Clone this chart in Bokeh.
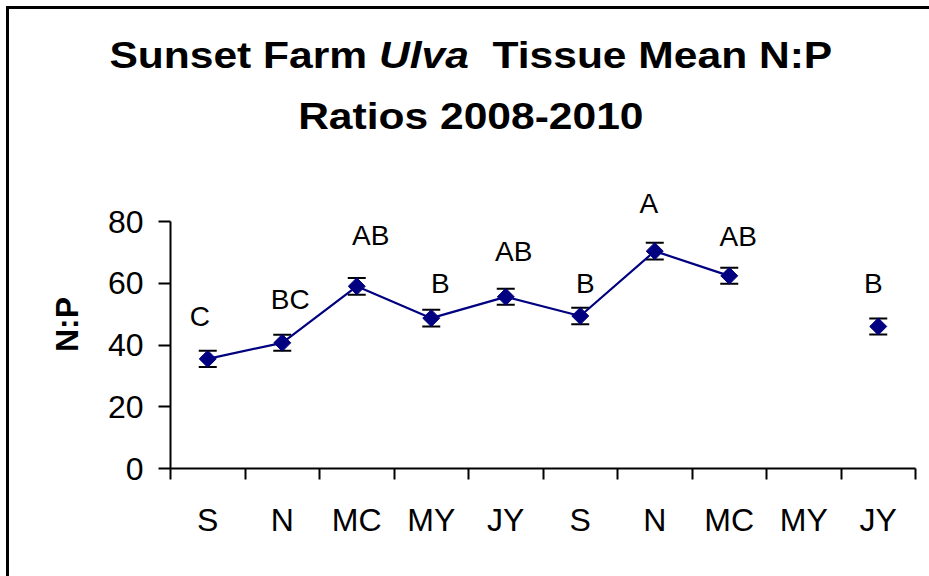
import numpy as np
from bokeh.plotting import figure
from bokeh.layouts import column
from bokeh.models import (ColumnDataSource, Range1d, LinearAxis, FixedTicker,
                          Whisker, TeeHead, LabelSet, Div)
from bokeh.core.properties import value
from bokeh.embed import file_html
from bokeh.resources import INLINE

# ---------------- data ----------------
categories = ["S", "N", "MC", "MY", "JY", "S", "N", "MC", "MY", "JY"]
mean_np = [35.5, 40.7, 59.0, 48.7, 55.6, 49.4, 70.4, 62.4, None, 46.0]
std_err = [2.6, 2.6, 2.7, 2.7, 2.6, 2.7, 2.7, 2.6, None, 2.6]
letters = ["C", "BC", "AB", "B", "AB", "B", "A", "AB", "", "B"]
y_ticks = [0, 20, 40, 60, 80]

# annotation layout for the significance letters (baseline in N:P units, x shift in px)
letter_base = [46.2, 51.5, 72.3, 56.7, 67.1, 56.7, 82.6, 72.1, None, 56.7]
letter_dx = [-8, 8, 14, 9, 8, 5, -6, 9, 0, -5]

# ---------------- layout ----------------
FONT = "Liberation Sans"
NAVY = "#000080"
PAGE_W, PAGE_H = 929, 576
TITLE_H = 150
FIG_H = PAGE_H - TITLE_H
FRAME_L, FRAME_R = 170, 915          # page px
FRAME_T, Y80, FRAME_B = 180, 221, 468  # page px
n = len(categories)
YMAX = 80
YTOP = YMAX * (FRAME_B - FRAME_T) / (FRAME_B - Y80)

title = Div(
    text=('<div style="box-sizing:border-box; width:%dpx; font-family:\'Liberation Sans\'; '
          'font-size:37px; font-weight:bold; color:#000; text-align:center; '
          'line-height:61px; padding-top:25px; padding-left:11px; '
          'transform:scaleX(1.15); transform-origin:50%% 0; white-space:nowrap;">'
          'Sunset Farm <i>Ulva</i>&nbsp; Tissue Mean N:P<br>Ratios 2008-2010</div>') % PAGE_W,
    width=PAGE_W, height=TITLE_H, margin=0)

p = figure(width=PAGE_W, height=FIG_H, output_backend="svg", toolbar_location=None,
           title=None, margin=0,
           x_range=Range1d(0, n), y_range=Range1d(0, YTOP),
           min_border_left=FRAME_L, min_border_right=PAGE_W - FRAME_R,
           min_border_top=FRAME_T - TITLE_H, min_border_bottom=PAGE_H - FRAME_B,
           x_axis_type=None, y_axis_type=None)
p.outline_line_color = None
p.xgrid.visible = False
p.ygrid.visible = False
p.background_fill_color = None
p.border_fill_color = None

centers = [i + 0.5 for i in range(n)]
bounds = [float(i) for i in range(n + 1)]

# x axis: labels at category centres, tick marks at boundaries
xax = LinearAxis(ticker=FixedTicker(ticks=centers, minor_ticks=bounds))
xax.major_label_overrides = {c: lab for c, lab in zip(centers, categories)}
xax.major_tick_out = 0
xax.major_tick_in = 0
xax.minor_tick_out = 11
xax.minor_tick_in = 0
xax.minor_tick_line_width = 2
xax.minor_tick_line_color = "black"
xax.axis_line_width = 2
xax.major_label_standoff = 22
xax.major_label_text_font = FONT
xax.major_label_text_font_size = "32px"
xax.major_label_text_color = "black"
p.add_layout(xax, "below")

yax = LinearAxis(ticker=FixedTicker(ticks=y_ticks, minor_ticks=[]), bounds=(0, YMAX))
yax.major_tick_out = 12
yax.major_tick_in = 0
yax.major_tick_line_width = 2
yax.axis_line_width = 2
yax.major_label_standoff = 15
yax.major_label_text_font = FONT
yax.major_label_text_font_size = "32px"
yax.major_label_text_color = "black"
yax.axis_label = "N:P"
yax.axis_label_text_font = FONT
yax.axis_label_text_font_style = "bold"
yax.axis_label_text_font_size = "32px"
yax.axis_label_text_color = "black"
yax.axis_label_standoff = 20
p.add_layout(yax, "left")

# line (breaks at the missing value)
line_y = [np.nan if v is None else v for v in mean_np]
p.line(centers, line_y, line_color=NAVY, line_width=2.2)

# points & error bars (only where values exist)
idx = [i for i, v in enumerate(mean_np) if v is not None]
pts = ColumnDataSource(dict(
    x=[centers[i] for i in idx],
    y=[mean_np[i] for i in idx],
    lo=[mean_np[i] - std_err[i] for i in idx],
    hi=[mean_np[i] + std_err[i] for i in idx],
))
wh = Whisker(source=pts, base="x", lower="lo", upper="hi", dimension="height",
             line_color="black", line_width=2, level="underlay",
             upper_head=TeeHead(size=18, line_width=2, line_color="black"),
             lower_head=TeeHead(size=18, line_width=2, line_color="black"))
p.add_layout(wh)
p.scatter("x", "y", source=pts, marker="square", angle=np.pi / 4, size=12,
          fill_color=NAVY, line_color=NAVY)

# significance letters
lidx = [i for i, t in enumerate(letters) if t]
lab_src = ColumnDataSource(dict(
    x=[centers[i] for i in lidx],
    y=[letter_base[i] for i in lidx],
    t=[letters[i] for i in lidx],
    dx=[letter_dx[i] for i in lidx],
))
p.add_layout(LabelSet(x="x", y="y", text="t", source=lab_src, x_offset="dx",
                      text_align="center", text_baseline="alphabetic",
                      text_font=value(FONT), text_font_size="28px",
                      text_color="black"))

page = column(title, p, spacing=0, margin=0,
              styles={"background":
                      "linear-gradient(#000,#000) 6px 6px / 3px 600px no-repeat, "
                      "linear-gradient(#000,#000) 6px 6px / 940px 3px no-repeat, #fff"})

open("out.html", "w").write(file_html(page, INLINE))
